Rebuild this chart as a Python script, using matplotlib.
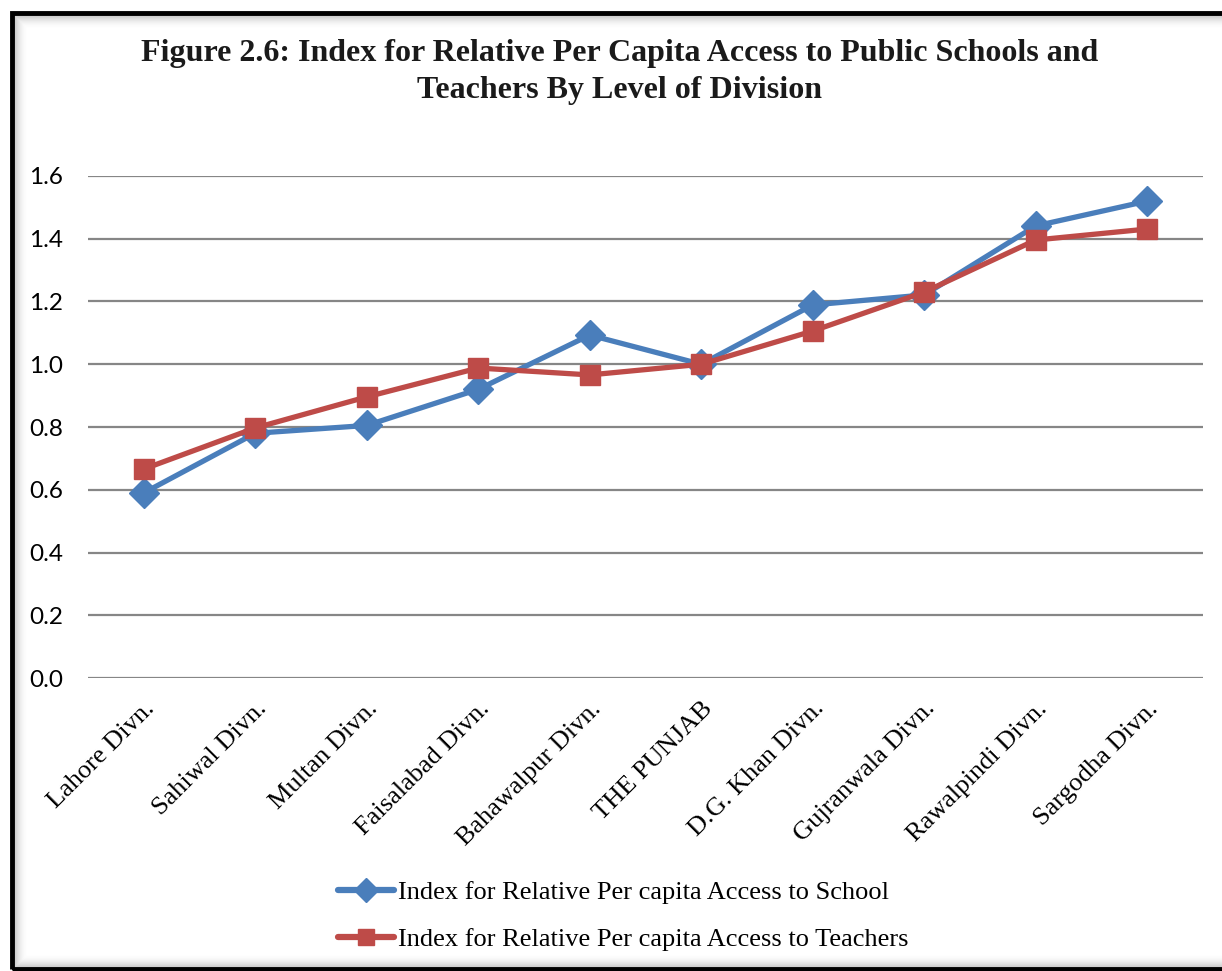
import matplotlib.pyplot as plt
from matplotlib.patches import Rectangle
from matplotlib.lines import Line2D

divisions = ['Lahore Divn.', 'Sahiwal Divn.', 'Multan Divn.', 'Faisalabad Divn.',
             'Bahawalpur Divn.', 'THE PUNJAB', 'D.G. Khan Divn.', 'Gujranwala Divn.',
             'Rawalpindi Divn.', 'Sargodha Divn.']
school = [0.59, 0.78, 0.805, 0.92, 1.093, 1.0, 1.189, 1.221, 1.441, 1.52]
teachers = [0.666, 0.797, 0.896, 0.988, 0.966, 1.0, 1.106, 1.23, 1.396, 1.431]
yticks = [0.0, 0.2, 0.4, 0.6, 0.8, 1.0, 1.2, 1.4, 1.6]

blue = '#4A7EBB'
red = '#BE4B48'
serif = 'Liberation Serif'

fig = plt.figure(figsize=(12.22, 9.71), dpi=100)
fig.patch.set_facecolor('white')

# black frame with a soft inner shadow
W, H = 1222, 971
x0, y0, x1, y1 = 12, 2, 1240, 958   # pixel box, y from bottom
for k in range(14):
    a = 0.16 * (1 - k / 14) ** 2
    fig.patches.append(Rectangle(((x0 + 2 + k) / W, (y0 + 2 + k) / H),
                                 (x1 - x0 - 4 - 2 * k) / W, (y1 - y0 - 4 - 2 * k) / H,
                                 transform=fig.transFigure, fill=False,
                                 edgecolor='black', alpha=a, linewidth=1.0))
fig.patches.append(Rectangle((x0 / W, y0 / H), (x1 - x0) / W, (y1 - y0) / H,
                             transform=fig.transFigure, fill=False,
                             edgecolor='black', linewidth=3.5))

ax = fig.add_axes([88 / W, 293 / H, (1203 - 88) / W, (678 - 176) / H])
x = range(len(divisions))
ax.plot(x, school, color=blue, lw=3.8, marker='D', ms=15, mec=blue, mfc=blue,
        label='Index for Relative Per capita Access to School', zorder=3)
ax.plot(x, teachers, color=red, lw=3.8, marker='s', ms=14, mec=red, mfc=red,
        label='Index for Relative Per capita Access to Teachers', zorder=4)

ax.set_xlim(-0.5, len(divisions) - 0.5)
ax.set_ylim(0, 1.6)
ax.set_yticks(yticks)
ax.set_yticklabels([f'{v:.1f}' for v in yticks], fontfamily='Lato', fontsize=17.5)
ax.set_xticks(list(x))
ax.set_xticklabels(divisions, rotation=45, ha='right', va='top',
                   rotation_mode='anchor', fontfamily=serif, fontsize=19)
ax.tick_params(axis='y', length=0, pad=18)
ax.tick_params(axis='x', length=0, pad=14)
ax.grid(axis='y', color='#868686', lw=1.6)
ax.set_axisbelow(True)
for s in ax.spines.values():
    s.set_visible(False)

fig.text(0.507, 0.926, 'Figure 2.6: Index for Relative Per Capita Access to Public Schools and\n'
         'Teachers By Level of Division', ha='center', va='center',
         fontfamily=serif, fontweight='bold', fontsize=23, color='#1a1a1a',
         linespacing=1.38)

handles = [Line2D([], [], color=blue, lw=4.5, marker='D', ms=12, solid_capstyle='round'),
           Line2D([], [], color=red, lw=4.5, marker='s', ms=12, solid_capstyle='round')]
fig.legend(handles, [l.get_label() for l in ax.get_lines()], loc='center',
           bbox_to_anchor=(0.51, 0.0565), frameon=False, handlelength=2.1,
           handletextpad=0.15, labelspacing=0.9,
           prop={'family': serif, 'size': 19})

fig.savefig('out.png', dpi=100)
